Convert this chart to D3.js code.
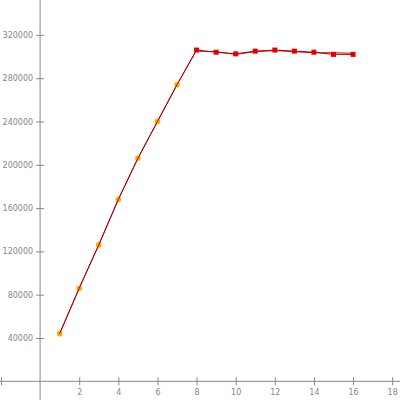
<!DOCTYPE html>
<html><head><meta charset="utf-8">
<script src="https://cdn.jsdelivr.net/npm/d3@7"></script>
<style>body{margin:0;background:#fff}svg{display:block}</style>
</head><body>
<script>
const xs = [1,2,3,4,5,6,7,8,9,10,11,12,13,14,15,16];
const values = [44000,86000,126000,168000,206000,240000,274000,306000,304000,302500,305000,306000,305000,304000,302000,302000];
const redXs = [8,9,10,11,12,13,14,15,16];
const redValues = [305000,304500,302000,304500,305500,304500,303500,303500,303000];
const xTicks = [-2,2,4,6,8,10,12,14,16,18];
const yTicks = [40000,80000,120000,160000,200000,240000,280000,320000];

const W=400,H=400;
const svg=d3.select("body").append("svg").attr("width",W).attr("height",H);
const x=d3.scaleLinear().domain([-2.05,18.4]).range([0,W]);
const y=d3.scaleLinear().domain([-17275,352240]).range([H,0]);
const axisCol="#888";

const xa=svg.append("g").attr("transform",`translate(0,${y(0)})`)
 .call(d3.axisBottom(x).tickValues(xTicks).tickSize(4).tickFormat(d=>d<0?"":d));
xa.select(".domain").remove();
xa.selectAll(".tick line").attr("y1",-4).attr("stroke",axisCol);
xa.selectAll(".tick text").attr("fill",axisCol).attr("font-family","DejaVu Sans").attr("font-size",8).attr("dy","0.9em");
xa.append("line").attr("x1",0).attr("x2",W).attr("stroke",axisCol);

const ya=svg.append("g").attr("transform",`translate(${x(0)},0)`)
 .call(d3.axisLeft(y).tickValues(yTicks).tickSize(4).tickFormat(d3.format("d")));
ya.select(".domain").remove();
ya.selectAll(".tick line").attr("x1",4).attr("x2",-4).attr("stroke",axisCol);
ya.selectAll(".tick text").attr("fill",axisCol).attr("font-family","DejaVu Sans").attr("font-size",8).attr("x",-7);
ya.append("line").attr("y1",0).attr("y2",H).attr("stroke",axisCol);

const line=d3.line().x(d=>x(d[0])).y(d=>y(d[1]));
const pts=xs.map((v,i)=>[v,values[i]]);
const redPts=redXs.map((v,i)=>[v,redValues[i]]);

svg.append("path").attr("d",line(redPts)).attr("fill","none").attr("stroke","#e00000").attr("stroke-width",1);
svg.append("path").attr("d",line(pts)).attr("fill","none").attr("stroke","#b00000").attr("stroke-width",1);

svg.selectAll("circle.o").data(pts.slice(0,7)).enter().append("circle")
 .attr("cx",d=>x(d[0])).attr("cy",d=>y(d[1])).attr("r",2.8).attr("fill","#ffaa00");
svg.append("path").attr("d",line(pts.slice(0,8))).attr("fill","none").attr("stroke","#b00000").attr("stroke-width",1);

svg.selectAll("rect.r").data(pts.slice(7)).enter().append("rect")
 .attr("x",d=>x(d[0])-2.5).attr("y",d=>y(d[1])-2.5).attr("width",5).attr("height",5).attr("fill","#e00000");
</script>
</body></html>
